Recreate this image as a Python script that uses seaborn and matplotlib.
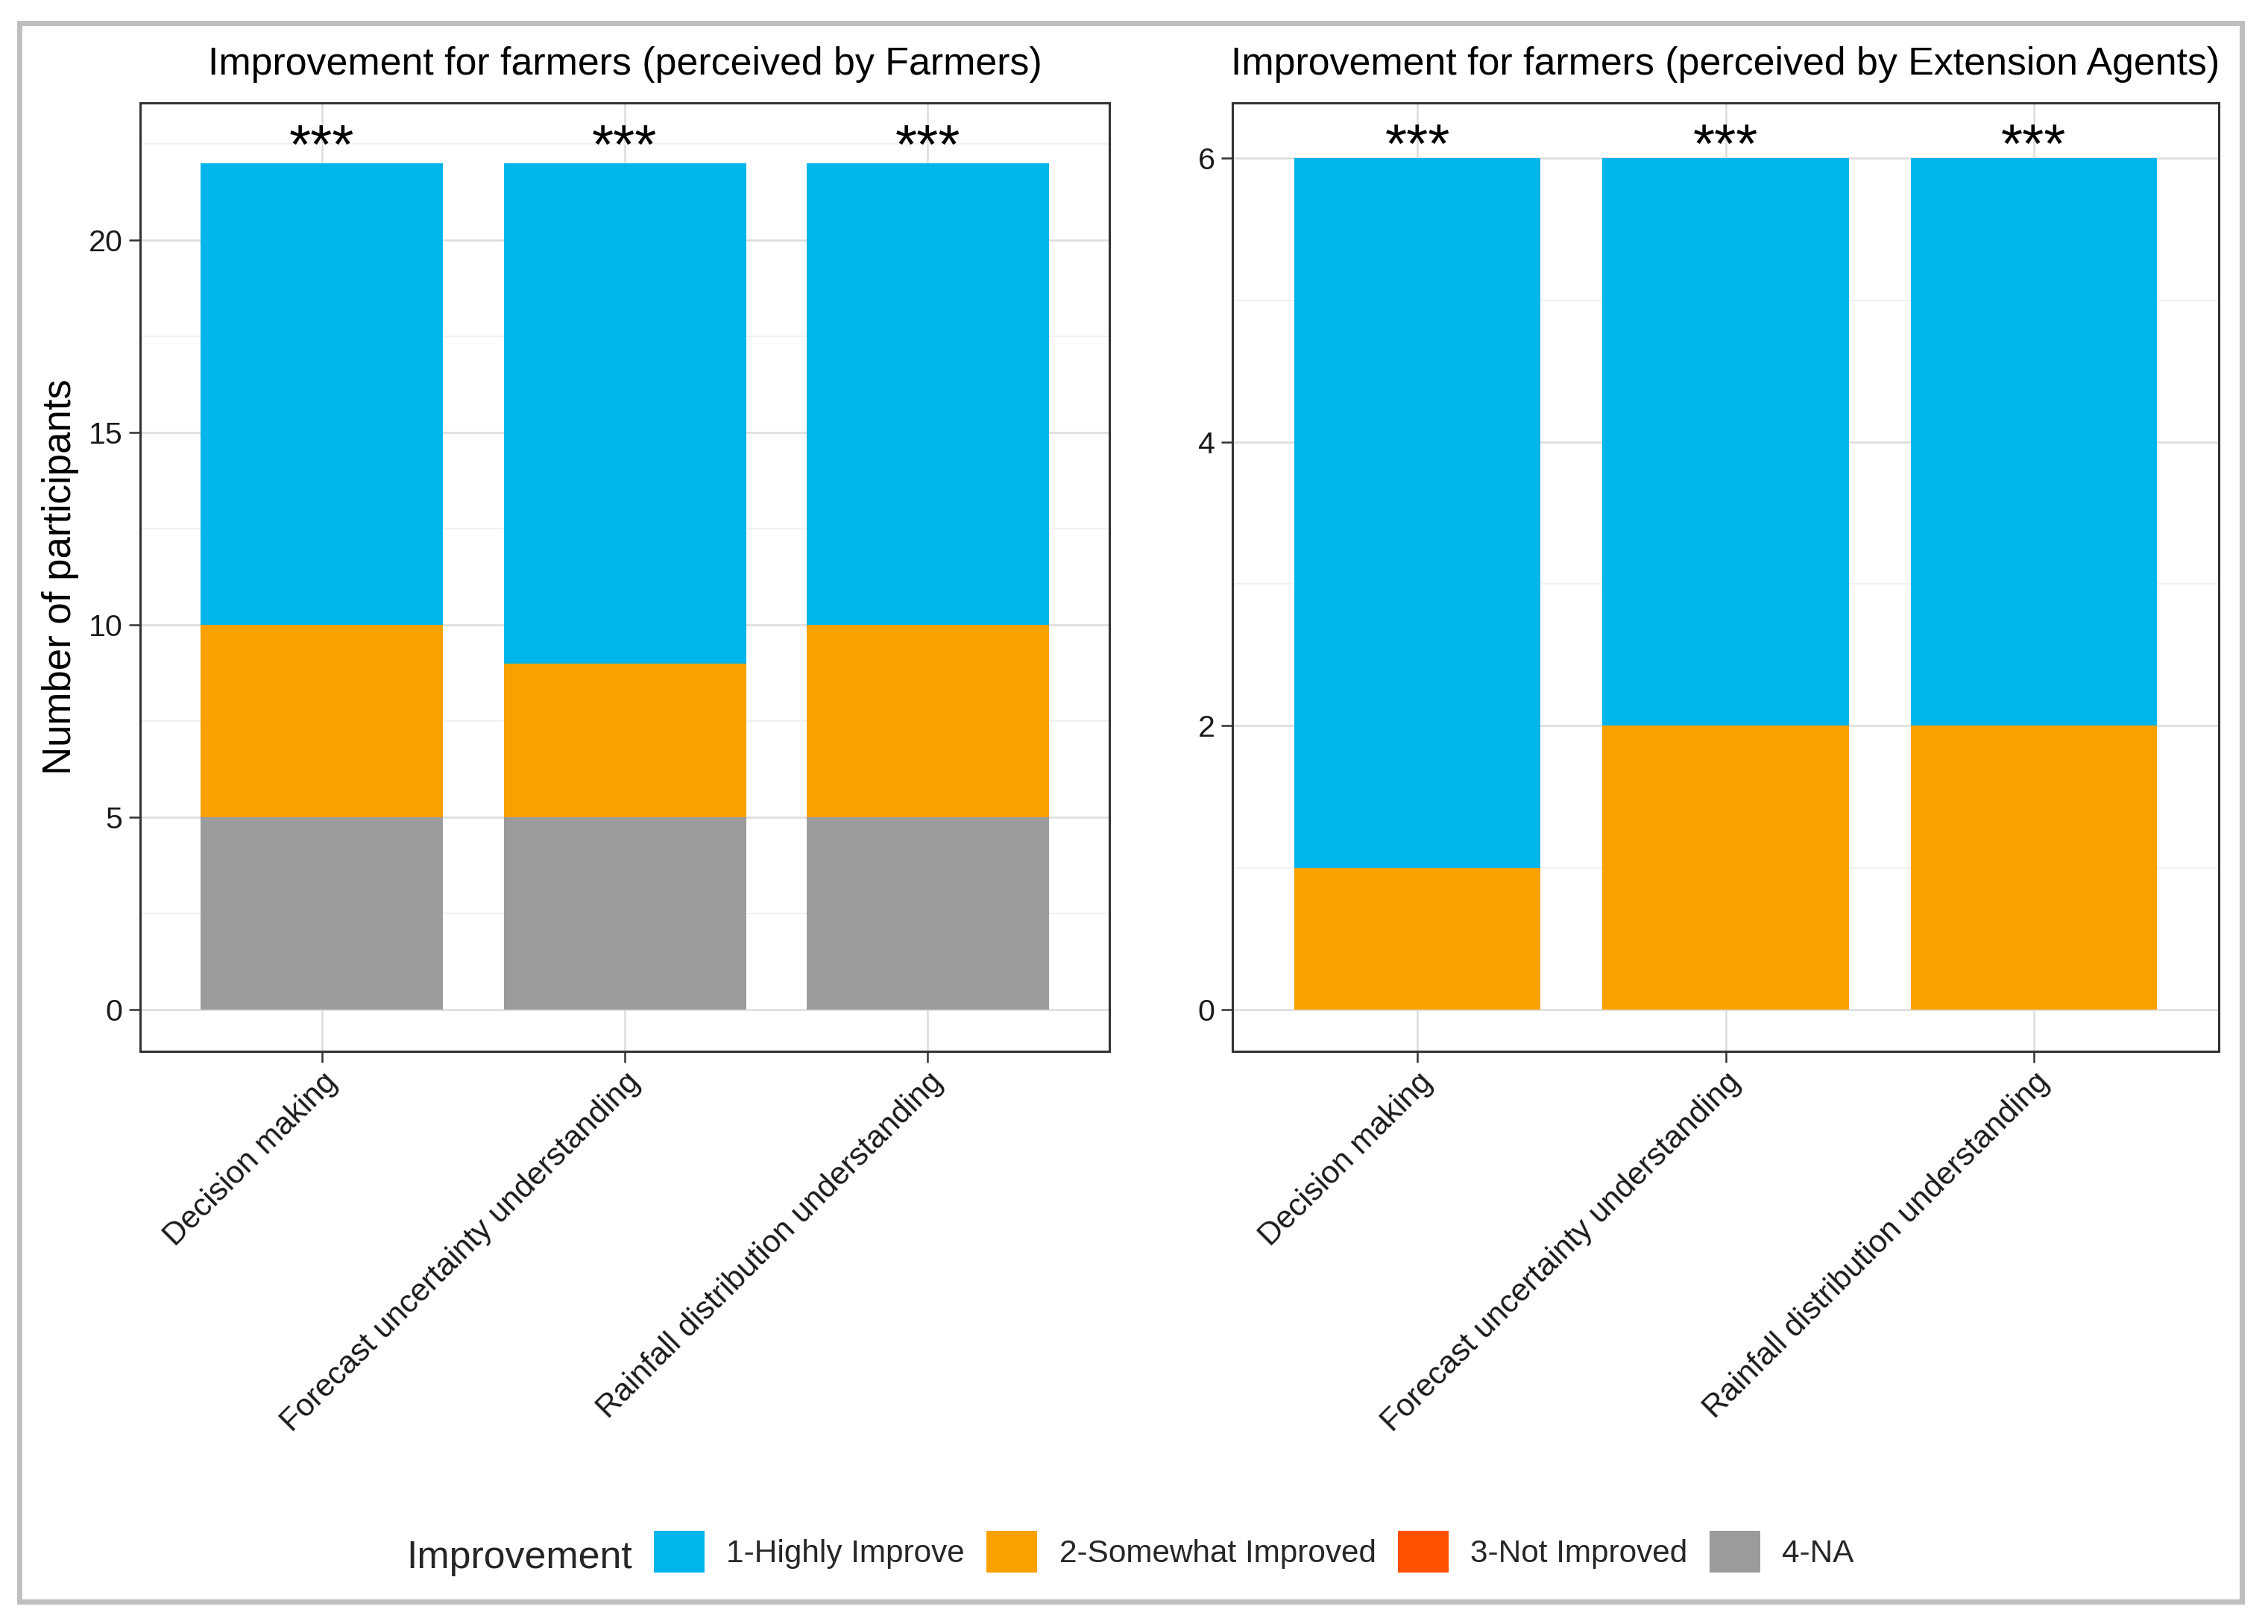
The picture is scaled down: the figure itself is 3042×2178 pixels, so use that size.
import matplotlib
matplotlib.use("Agg")
import matplotlib.pyplot as plt
import seaborn as sns
import numpy as np
from matplotlib.patches import Patch, Rectangle
from matplotlib.ticker import MultipleLocator
from matplotlib.transforms import ScaledTranslation

# ---------------- data ----------------
categories = ["Decision making",
              "Forecast uncertainty understanding",
              "Rainfall distribution understanding"]
levels = ["1-Highly Improve", "2-Somewhat Improved", "3-Not Improved", "4-NA"]
level_colors = ["#00B5EB", "#F9A100", "#FF5100", "#9B9B9B"]

farmers_highly = [12, 13, 12]
farmers_somewhat = [5, 4, 5]
farmers_not = [0, 0, 0]
farmers_na = [5, 5, 5]

agents_highly = [5, 4, 4]
agents_somewhat = [1, 2, 2]
agents_not = [0, 0, 0]
agents_na = [0, 0, 0]

significance = ["***", "***", "***"]

titles = ["Improvement for farmers (perceived by Farmers)",
          "Improvement for farmers (perceived by Extension Agents)"]
y_label = "Number of participants"
legend_title = "Improvement"

# ---------------- style ----------------
sns.set_style("white")
plt.rcParams["font.family"] = ["Liberation Sans", "DejaVu Sans"]

W, H = 3042, 2178
DPI = 200
fig = plt.figure(figsize=(W / DPI, H / DPI), dpi=DPI)

ax_bottom = 1 - 1410 / H
ax_height = (1410 - 138) / H
ax_left = fig.add_axes([188 / W, ax_bottom, 1300 / W, ax_height])
ax_right = fig.add_axes([1653 / W, ax_bottom, 1323 / W, ax_height])

panels = [
    (ax_left, [farmers_highly, farmers_somewhat, farmers_not, farmers_na],
     (-1.085, 23.57), 5, 2.5, 0.0),
    (ax_right, [agents_highly, agents_somewhat, agents_not, agents_na],
     (-0.294, 6.39), 2, 1, -2.2),
]

for i, (ax, series, ylim, major, minor, star_dy) in enumerate(panels):
    # stack from bottom: 4-NA, 3-Not, 2-Somewhat, 1-Highly
    bottom = np.zeros(len(categories))
    for lvl in [3, 2, 1, 0]:
        vals = np.array(series[lvl], dtype=float)
        sns.barplot(x=categories, y=vals, bottom=bottom, color=level_colors[lvl],
                    saturation=1, width=0.8, linewidth=0, edgecolor="none",
                    errorbar=None, ax=ax, zorder=2)
        bottom = bottom + vals
    totals = bottom
    for j, s in enumerate(significance):
        ax.annotate(s, xy=(j, totals[j]), xytext=(0, star_dy),
                    textcoords="offset points", ha="center", va="baseline",
                    fontsize=27, color="black", zorder=3)

    ax.set_xlim(-0.6, 2.6)
    ax.set_ylim(*ylim)
    ax.yaxis.set_major_locator(MultipleLocator(major))
    ax.yaxis.set_minor_locator(MultipleLocator(minor))
    ax.set_axisbelow(True)
    ax.grid(which="major", axis="both", color="#DCDCDC", linewidth=0.9, zorder=0)
    ax.grid(which="minor", axis="y", color="#EFEFEF", linewidth=0.6, zorder=0)
    for sp in ax.spines.values():
        sp.set_visible(True)
        sp.set_color("#333333")
        sp.set_linewidth(1.1)
    ax.tick_params(which="major", length=5.4, width=0.9, color="#333333",
                   labelcolor="#1a1a1a", pad=3, direction="out",
                   bottom=True, left=True)
    ax.tick_params(axis="y", which="major", labelsize=14.8)
    ax.tick_params(axis="x", which="major", labelsize=15.2)
    ax.tick_params(which="minor", length=0)
    ax.set_xticks(range(len(categories)))
    ax.set_xticklabels(categories, rotation=45, ha="right", va="top",
                       rotation_mode="anchor")
    offset = ScaledTranslation(0, 2 / DPI, fig.dpi_scale_trans)
    for lab in ax.get_xticklabels():
        lab.set_transform(lab.get_transform() + offset)
    ax.set_xlabel("")
    ax.set_ylabel("")
    ax.set_title(titles[i], fontsize=18.7, pad=13.7, color="black")

ax_left.set_ylabel(y_label, fontsize=19, color="black")
ax_left.yaxis.set_label_coords((106 - 188) / 1300, 0.5)

# ---------------- legend ----------------
handles = [Patch(facecolor=c, edgecolor="none", label=l)
           for c, l in zip(level_colors, levels)]
fig.legend(handles=handles, loc="center left", bbox_to_anchor=(877 / W, 1 - 2081 / H),
           ncol=4, frameon=False, fontsize=15.2, handlelength=1.6, handleheight=1.65,
           handletextpad=0.7, columnspacing=0.7, borderpad=0, borderaxespad=0)
fig.text(545 / W, 1 - 2103 / H, legend_title, fontsize=18.7, ha="left", va="baseline")

# outer frame
fig.patches.append(Rectangle((25.5 / W, 1 - 2148 / H), (3007 - 25.5) / W, (2148 - 31) / H,
                             transform=fig.transFigure, fill=False,
                             edgecolor="#BFBFBF", linewidth=2.5))

fig.savefig("out.png", dpi=DPI)
